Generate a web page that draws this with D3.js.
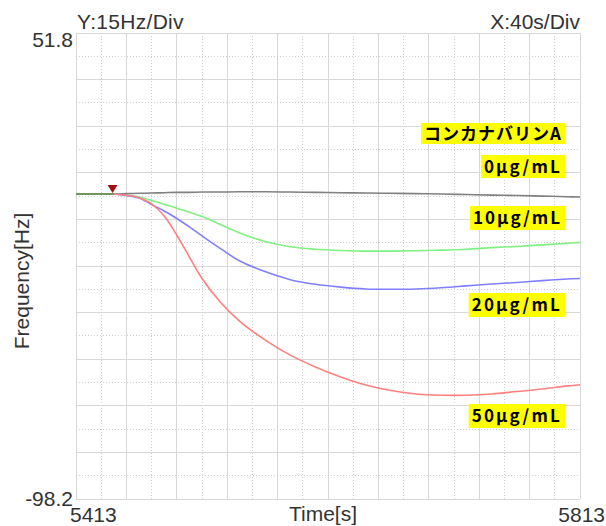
<!DOCTYPE html>
<html>
<head>
<meta charset="utf-8">
<script src="https://cdn.jsdelivr.net/npm/d3@7"></script>
<style>
  html, body { margin: 0; padding: 0; background: #fff; }
  svg { display: block; }
  text { font-family: "Liberation Sans", Arial, sans-serif; fill: #333; }
  .tag { font-family: "Noto Sans CJK JP", sans-serif; font-weight: bold; fill: #000; }
</style>
</head>
<body>
<svg id="chart" width="606" height="526"></svg>
<script>
// time axis [s]
const times = [5413, 5423, 5433, 5443, 5453, 5463, 5473, 5483, 5493, 5503, 5513, 5528, 5543,
               5563, 5583, 5603, 5623, 5643, 5663, 5683, 5703, 5723, 5743, 5763, 5783, 5803, 5813];

// frequency shift [Hz] per concentration
const conc0  = [0, 0, 0, 0, 0.1, 0.2, 0.3, 0.4, 0.5, 0.5, 0.6, 0.6, 0.7, 0.7, 0.6, 0.5,
                0.4, 0.3, 0.2, 0.1, 0, -0.2, -0.4, -0.5, -0.7, -0.9, -1.0];
const conc10 = [0, 0, 0, 0, -0.4, -1.0, -2.1, -3.3, -4.6, -5.9, -7.3, -9.9, -12.6, -15.3,
                -17.0, -17.8, -18.2, -18.4, -18.4, -18.3, -18.1, -17.8, -17.3, -16.9, -16.4, -15.9, -15.6];
const conc20 = [0, 0, 0, 0, -0.5, -1.3, -3.4, -5.5, -7.9, -10.6, -13.5, -17.7, -21.6, -25.0,
                -27.6, -29.1, -30.0, -30.6, -30.7, -30.6, -30.2, -29.6, -29.0, -28.5, -27.9, -27.4, -27.2];
const conc50 = [0, 0, 0, 0, -0.4, -1.2, -3.2, -7.1, -13.3, -20.3, -27.2, -35.0, -41.0, -47.0,
                -51.9, -55.7, -58.9, -61.5, -63.3, -64.4, -64.8, -64.8, -64.4, -63.6, -62.8, -61.8, -61.4];

const seriesNames = ["0μg/mL", "10μg/mL", "20μg/mL", "50μg/mL"];
const seriesValues = [conc0, conc10, conc20, conc50];
const seriesColors = ["#808080", "#80f080", "#8080ff", "#ff8080"];
const legendTitle = "コンカナバリンA";

const xMin = 5413, xMax = 5813, xDiv = 40;
const yMin = -98.2, yMax = 51.8, yDiv = 15;
const markerTime = 5442;

const svg = d3.select("#chart");
const plot = { left: 76, right: 580, top: 33, bottom: 499 };

const x = d3.scaleLinear().domain([xMin, xMax]).range([plot.left, plot.right]);
const y = d3.scaleLinear().domain([yMin, yMax]).range([plot.bottom, plot.top]);

// grid: solid on each division, dotted at half divisions
const xGrid = d3.range(0, (xMax - xMin) / (xDiv / 2) + 1).map(i => ({ v: xMin + i * xDiv / 2, minor: i % 2 === 1 }));
const yGrid = d3.range(0, (yMax - yMin) / (yDiv / 2) + 1).map(i => ({ v: yMax - i * yDiv / 2, minor: i % 2 === 1 }));

const grid = svg.append("g");
grid.selectAll(".vx").data(xGrid).enter().append("line")
  .attr("x1", d => x(d.v)).attr("x2", d => x(d.v))
  .attr("y1", plot.top).attr("y2", plot.bottom)
  .attr("stroke", d => d.minor ? "#cfcfcf" : "#d8d8d8")
  .attr("stroke-dasharray", d => d.minor ? "1,2" : null)
  .attr("stroke-width", 1)
  .attr("shape-rendering", "crispEdges");
grid.selectAll(".hy").data(yGrid).enter().append("line")
  .attr("y1", d => y(d.v)).attr("y2", d => y(d.v))
  .attr("x1", plot.left).attr("x2", plot.right)
  .attr("stroke", d => d.minor ? "#cfcfcf" : "#d8d8d8")
  .attr("stroke-dasharray", d => d.minor ? "1,2" : null)
  .attr("stroke-width", 1)
  .attr("shape-rendering", "crispEdges");

// curves
const line = d3.line()
  .curve(d3.curveCatmullRom.alpha(0.5))
  .x((d, i) => x(times[i]))
  .y(d => y(d));

seriesValues.forEach((vals, k) => {
  svg.append("path")
    .datum(vals)
    .attr("fill", "none")
    .attr("stroke", seriesColors[k])
    .attr("stroke-width", 1.6)
    .attr("d", line);
});

// dark baseline before the marker
svg.append("path")
  .datum(conc10.slice(0, 4))
  .attr("fill", "none")
  .attr("stroke", "#4a9a4a")
  .attr("stroke-width", 1.6)
  .attr("d", line);

// injection marker
const mx = x(markerTime), my = y(0);
svg.append("path")
  .attr("d", `M${mx - 5},${my - 9} L${mx + 5},${my - 9} L${mx},${my - 1} Z`)
  .attr("fill", "#a01010");

// axis texts
const fs = 21;
svg.append("text").attr("x", 73).attr("y", 47).attr("text-anchor", "end")
  .attr("font-size", fs).text(yMax.toFixed(1));
svg.append("text").attr("x", 73).attr("y", 506).attr("text-anchor", "end")
  .attr("font-size", fs).text(yMin.toFixed(1));
svg.append("text").attr("x", 70).attr("y", 522)
  .attr("font-size", fs).text(xMin);
svg.append("text").attr("x", 605).attr("y", 522).attr("text-anchor", "end")
  .attr("font-size", fs).text(xMax);
svg.append("text").attr("x", 323).attr("y", 521).attr("text-anchor", "middle")
  .attr("font-size", fs).text("Time[s]");
svg.append("text").attr("x", 77).attr("y", 29)
  .attr("font-size", fs).attr("letter-spacing", 0.3).text(`Y:${yDiv}Hz/Div`);
svg.append("text").attr("x", 580).attr("y", 29).attr("text-anchor", "end")
  .attr("font-size", fs).text(`X:${xDiv}s/Div`);
svg.append("text")
  .attr("transform", `translate(29,281) rotate(-90)`)
  .attr("text-anchor", "middle")
  .attr("font-size", fs).text("Frequency[Hz]");

// yellow tags
const tags = [
  { text: legendTitle, top: 123, h: 21, ls: 1 },
  { text: seriesNames[0], top: 155, h: 23, ls: 2.2 },
  { text: seriesNames[1], top: 206, h: 24, ls: 2 },
  { text: seriesNames[2], top: 293, h: 24, ls: 2.2 },
  { text: seriesNames[3], top: 404, h: 24, ls: 2.2 }
];
const tagRight = 565;
tags.forEach(t => {
  const g = svg.append("g");
  const txt = g.append("text")
    .attr("class", "tag")
    .attr("x", tagRight - 3)
    .attr("y", t.top + t.h / 2)
    .attr("dy", "0.36em")
    .attr("text-anchor", "end")
    .attr("font-size", 17)
    .attr("letter-spacing", t.ls)
    .text(t.text);
  const bb = txt.node().getBBox();
  g.insert("rect", "text")
    .attr("x", bb.x - 3).attr("y", t.top)
    .attr("width", tagRight - bb.x + 3).attr("height", t.h)
    .attr("fill", "#ffff00");
});
</script>
</body>
</html>
